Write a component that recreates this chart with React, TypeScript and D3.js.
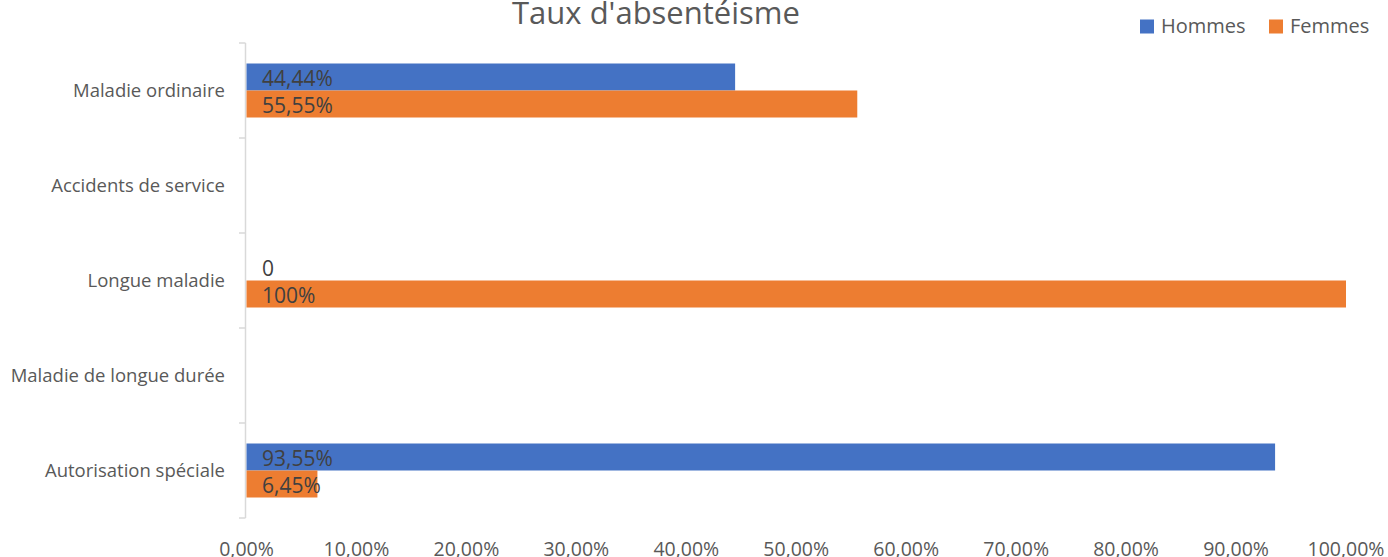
import { useEffect, useRef } from "react";
import * as d3 from "d3";

const categories = [
  "Maladie ordinaire",
  "Accidents de service",
  "Longue maladie",
  "Maladie de longue durée",
  "Autorisation spéciale",
];
const series = ["Hommes", "Femmes"];
const hommes: (number | null)[] = [44.44, null, 0, null, 93.55];
const femmes: (number | null)[] = [55.55, null, 100, null, 6.45];
const hommesLabels = ["44,44%", "", "0", "", "93,55%"];
const femmesLabels = ["55,55%", "", "100%", "", "6,45%"];
const xTicks = [0, 10, 20, 30, 40, 50, 60, 70, 80, 90, 100];
const colors = ["#4472C4", "#ED7D31"];

const W = 1388;
const H = 557;
const FONT = "'Open Sans', sans-serif";

export default function App() {
  const svgRef = useRef<SVGSVGElement>(null);

  useEffect(() => {
    if (!svgRef.current) return;
    const svg = d3.select(svgRef.current);
    svg.selectAll("*").remove();

    const x = d3.scaleLinear().domain([0, 100]).range([246.5, 1346]);
    const y = d3.scaleBand<string>().domain(categories).range([43, 518]);
    const inner = d3.scaleBand<string>().domain(series).range([0, 54]);
    const barOffset = (y.bandwidth() - 54) / 2;

    // Title (cut at the top, as in the original)
    svg.append("text")
      .attr("x", 656)
      .attr("y", 24)
      .attr("text-anchor", "middle")
      .style("fill", "#595959")
      .style("font-size", "31px")
      .style("font-family", FONT)
      .text("Taux d'absentéisme");

    // Legend
    const legendItems = [
      { label: "Hommes", x: 1140 },
      { label: "Femmes", x: 1269 },
    ];
    legendItems.forEach((item, i) => {
      svg.append("rect")
        .attr("x", item.x)
        .attr("y", 19.5)
        .attr("width", 14)
        .attr("height", 14)
        .style("fill", colors[i]);
      svg.append("text")
        .attr("x", item.x + 21)
        .attr("y", 33)
        .style("fill", "#595959")
        .style("font-size", "20px")
        .style("font-family", FONT)
        .text(item.label);
    });

    // Vertical axis line + ticks
    svg.append("line")
      .attr("x1", 245.5).attr("x2", 245.5)
      .attr("y1", 43).attr("y2", 518)
      .style("stroke", "#D9D9D9")
      .style("stroke-width", 1.5);
    const boundaries = categories.map(c => y(c)!).concat([518]);
    boundaries.forEach(b => {
      svg.append("line")
        .attr("x1", 239).attr("x2", 245.5)
        .attr("y1", b).attr("y2", b)
        .style("stroke", "#D9D9D9")
        .style("stroke-width", 1.5);
    });

    // Category labels
    categories.forEach(c => {
      svg.append("text")
        .attr("x", 225)
        .attr("y", y(c)! + y.bandwidth() / 2 + 6)
        .attr("text-anchor", "end")
        .style("fill", "#595959")
        .style("font-size", "18.5px")
        .style("font-family", FONT)
        .text(c);
    });

    // Bars and data labels
    const data = [hommes, femmes];
    const labels = [hommesLabels, femmesLabels];
    data.forEach((vals, si) => {
      vals.forEach((v, ci) => {
        if (v === null) return;
        const top = y(categories[ci])! + barOffset + inner(series[si])!;
        if (v > 0) {
          svg.append("rect")
            .attr("x", x(0))
            .attr("y", top)
            .attr("width", x(v) - x(0))
            .attr("height", inner.bandwidth())
            .style("fill", colors[si]);
        }
        svg.append("text")
          .attr("x", 262)
          .attr("y", top + 22.5)
          .style("fill", "#404040")
          .style("font-size", "21px")
          .style("font-family", FONT)
          .text(labels[si][ci]);
      });
    });

    // X tick labels (cut at the bottom, as in the original)
    xTicks.forEach(t => {
      svg.append("text")
        .attr("x", x(t))
        .attr("y", 556)
        .attr("text-anchor", "middle")
        .style("fill", "#595959")
        .style("font-size", "19.5px")
        .style("font-family", FONT)
        .text(d3.format(".2f")(t).replace(".", ",") + "%");
    });
  }, []);

  return (
    <svg
      ref={svgRef}
      width={W}
      height={H}
      style={{ position: "absolute", left: 0, top: 0, background: "#fff" }}
    />
  );
}
